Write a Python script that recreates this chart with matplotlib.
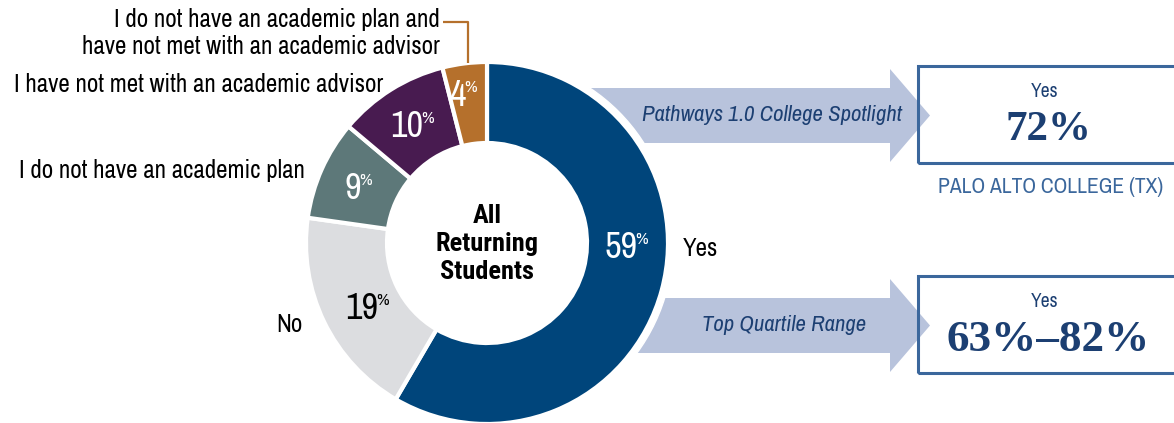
import matplotlib
matplotlib.use("Agg")
import matplotlib.pyplot as plt
from matplotlib.patches import FancyArrow, Rectangle, Circle

# ---- data ----
categories = ["Yes", "No", "I do not have an academic plan",
              "I have not met with an academic advisor",
              "I do not have an academic plan and\nhave not met with an academic advisor"]
values = [59, 19, 9, 10, 4]
colors = ["#00457b", "#dcdde0", "#5d7879", "#481b50", "#b5702c"]
pct_colors = ["white", "black", "white", "white", "white"]
center_title = "All\nReturning\nStudents"
arrow_labels = ["Pathways 1.0 College Spotlight", "Top Quartile Range"]
box_top_labels = ["Yes", "Yes"]
box_values = ["72%", "63%\u201382%"]
box_caption = "PALO ALTO COLLEGE (TX)"

NARROW = ["Archivo Narrow", "Liberation Sans", "DejaVu Sans"]
NARROW_BOLD = ["Roboto Condensed", "Asap Condensed", "Archivo Narrow", "Liberation Sans", "DejaVu Sans"]
SERIF = ["Liberation Serif", "DejaVu Serif"]
plt.rcParams["font.family"] = NARROW

W, H = 1174, 423
fig = plt.figure(figsize=(W / 100, H / 100), dpi=100)
ax = fig.add_axes([0, 0, 1, 1])
Y = lambda y: H - y

cx, cy, R, ring = 487, Y(243), 181, 81
arrow_col = "#b8c3dc"
text_blue = "#1c3f72"
box_blue = "#3b679c"

# arrows (behind donut)
for yc in (115.5, 325.5):
    ax.add_patch(FancyArrow(560, Y(yc), 930 - 560, 0, width=55, head_width=93,
                            head_length=40, length_includes_head=True,
                            color=arrow_col, lw=0, zorder=1))
ax.add_patch(Circle((cx, cy), R + 5, color="white", zorder=2))

wedges, _ = ax.pie(values, colors=colors, startangle=90, counterclock=False,
                   radius=R, center=(cx, cy), frame=True,
                   wedgeprops=dict(width=ring, edgecolor="white", linewidth=3))
for w in wedges:
    w.set_zorder(3)

# percent labels (number + superscript %)
pct_pos = [(637, 247), (378, 308), (361, 188), (423, 126), (466, 95)]
for v, (x, y), c in zip(values, pct_pos, pct_colors):
    ax.text(x, Y(y), str(v), ha="right", va="center", fontsize=26, color=c, zorder=5)
    ax.text(x - 1.5, Y(y - 8), "%", ha="left", va="center", fontsize=12.5, color=c, zorder=5)

ax.text(cx, Y(244), center_title, ha="center", va="center", fontsize=19,
        fontweight="bold", family=NARROW_BOLD, linespacing=1.2, zorder=5)

# category labels
lab_fs = 18
ax.text(683, Y(248), categories[0], ha="left", va="center", fontsize=lab_fs)
ax.text(303, Y(324), categories[1], ha="right", va="center", fontsize=lab_fs)
ax.text(305, Y(170), categories[2], ha="right", va="center", fontsize=lab_fs)
ax.text(383, Y(84), categories[3], ha="right", va="center", fontsize=lab_fs)
ax.text(440, Y(33), categories[4], ha="right", va="center", fontsize=lab_fs,
        linespacing=1.2)
ax.plot([443, 468, 468], [Y(22), Y(22), Y(63)], color=colors[4], lw=1.6,
        solid_capstyle="butt", zorder=4)

# arrow texts
ax.text(772, Y(115), arrow_labels[0], ha="center", va="center", fontsize=16.4,
        style="italic", color=text_blue, zorder=5)
ax.text(784, Y(325), arrow_labels[1], ha="center", va="center", fontsize=16.4,
        style="italic", color=text_blue, zorder=5)

# boxes
bx = 1047
for top, bot, lab, val, vfs in ((66, 163, box_top_labels[0], box_values[0], 31),
                                (276, 373, box_top_labels[1], box_values[1], 32.5)):
    ax.add_patch(Rectangle((918, Y(bot)), 300, bot - top, fill=False,
                           edgecolor=box_blue, lw=2.2, zorder=4))
    ax.text(bx - 2, Y(top + 25), lab, ha="center", va="center", fontsize=14,
            color=text_blue)
    ax.text(bx + 1, Y(top + 64), val, ha="center", va="center", fontsize=vfs,
            fontweight="bold", family=SERIF, color=text_blue)
ax.text(1051, Y(187), box_caption, ha="center", va="center", fontsize=15.5,
        color=box_blue)

ax.set_xlim(0, W)
ax.set_ylim(0, H)
ax.set_aspect("auto")
ax.axis("off")
fig.savefig("out.png", dpi=100)
